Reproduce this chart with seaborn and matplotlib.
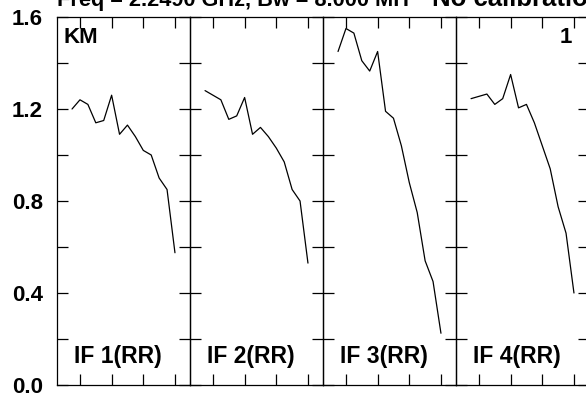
import numpy as np
import pandas as pd
import matplotlib
matplotlib.use("Agg")
import matplotlib.pyplot as plt
import seaborn as sns

# === DATA ===
channels = list(range(1, 15))
if_labels = ["IF 1(RR)", "IF 2(RR)", "IF 3(RR)", "IF 4(RR)"]
amp_if1 = [1.20, 1.24, 1.22, 1.14, 1.15, 1.26, 1.09, 1.13, 1.08, 1.02, 1.00, 0.90, 0.85, 0.575]
amp_if2 = [1.28, 1.26, 1.24, 1.155, 1.17, 1.25, 1.09, 1.12, 1.08, 1.03, 0.97, 0.85, 0.80, 0.53]
amp_if3 = [1.45, 1.55, 1.53, 1.41, 1.365, 1.45, 1.19, 1.16, 1.04, 0.88, 0.75, 0.54, 0.45, 0.225]
amp_if4 = [1.245, 1.255, 1.265, 1.22, 1.245, 1.35, 1.205, 1.22, 1.14, 1.04, 0.94, 0.775, 0.66, 0.40]
x_ticks = [2, 6, 10, 14]
y_ticks = [0.0, 0.2, 0.4, 0.6, 0.8, 1.0, 1.2, 1.4, 1.6]
y_labels = ["0.0", "", "0.4", "", "0.8", "", "1.2", "", "1.6"]
source = "KM"
stokes_num = "1"
title_left = "Freq = 2.2490 GHz, Bw = 8.000 MH"
title_right = "No calibration"

amps = [amp_if1, amp_if2, amp_if3, amp_if4]
df = pd.DataFrame({
    "channel": channels * len(if_labels),
    "amp": sum(amps, []),
    "IF": np.repeat(if_labels, len(channels)),
})

sns.set_style("ticks")
plt.rcParams["font.family"] = ["Liberation Sans", "DejaVu Sans"]
plt.rcParams["font.weight"] = "bold"

W, H = 586, 394
fig = plt.figure(figsize=(W / 100, H / 100), dpi=100)

x0, pw = 57, 133
bottom, top = 385, 17
font = dict(fontsize=16, fontweight="bold", color="black")

for i, lab in enumerate(if_labels):
    ax = fig.add_axes([(x0 + pw * i) / W, (H - bottom) / H, pw / W, (bottom - top) / H])
    sns.lineplot(data=df[df["IF"] == lab], x="channel", y="amp", ax=ax,
                 color="black", linewidth=0.9, estimator=None)
    ax.set_xlim(-0.9, 15.9)
    ax.set_ylim(0, 1.6)
    ax.set_xticks(x_ticks)
    ax.set_yticks(y_ticks)
    ax.tick_params(direction="in", length=8, width=0.9, color="black",
                   top=True, right=True, labelbottom=False, pad=10)
    if i == 0:
        ax.set_yticklabels(y_labels, **font)
    else:
        ax.set_yticklabels([])
    ax.set_xlabel("")
    ax.set_ylabel("")
    for s in ax.spines.values():
        s.set_color("black")
        s.set_linewidth(0.9)
    ax.patch.set_alpha(0)
    ax.text(0.455, 0.061, lab, transform=ax.transAxes, ha="center", va="baseline",
            fontsize=16.5, fontweight="bold", color="black")
    if i == 0:
        ax.text(0.05, 0.93, source, transform=ax.transAxes, ha="left", va="baseline", **font)
    if i == 3:
        ax.text(0.87, 0.93, stokes_num, transform=ax.transAxes, ha="right", va="baseline", **font)

# title line, cut off at the top and right edge as in the reference
fig.text(57 / W, (H - 6) / H, title_left, ha="left", va="baseline",
         fontsize=15.7, fontweight="bold", color="black")
fig.text(432 / W, (H - 6) / H, title_right, ha="left", va="baseline",
         fontsize=18.5, fontweight="bold", color="black")

fig.savefig("out.png", dpi=100, facecolor="white")
